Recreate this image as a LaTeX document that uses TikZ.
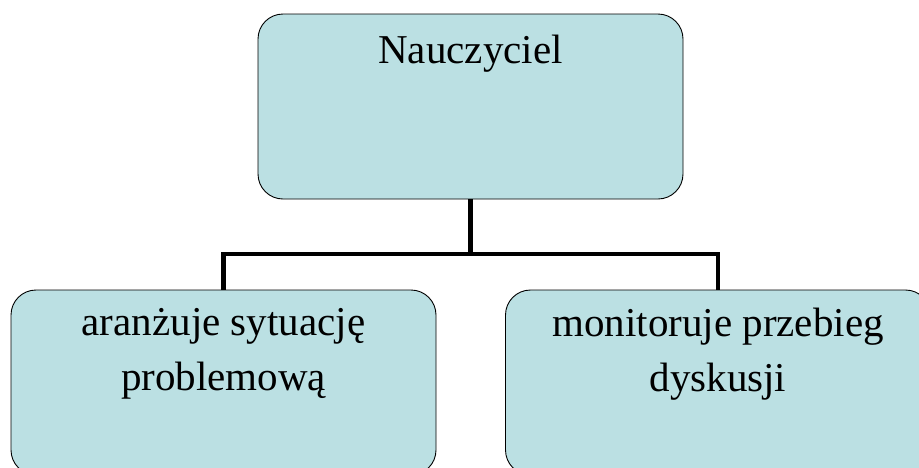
\documentclass[tikz,border=0pt]{standalone}
\usepackage{fontspec}
\setmainfont{Liberation Serif}
\usepackage{tikz}
\usetikzlibrary{positioning}

\begin{document}
\begin{tikzpicture}[x=1pt,y=-1pt]
\tikzstyle{every node}+=[inner sep=0pt]
\tikzstyle{box}=[draw=black,line width=0.9pt,fill=boxblue,rounded corners=25pt,
  minimum width=425pt,minimum height=185pt]
\tikzstyle{txt}=[font=\fontsize{41pt}{55pt}\selectfont,align=center,anchor=north]
\tikzstyle{conn}=[draw=black,line width=4.6pt,line join=miter]
\definecolor{boxblue}{RGB}{187,224,227}
\useasboundingbox (0,0) rectangle (919,467);
% boxes
\node [box] (nauczyciel) at (470.5,106.5) {};
\node [box] (aranz) at (223.5,382.5) {};
\node [box] (monit) at (718,382.5) {};
% texts
\node [txt] (tN) at (470.5,35) {Nauczyciel};
\node [txt] (tA) at (223.5,308) {aranżuje sytuację\\problemową};
\node [txt] (tM) at (718,308) {monitoruje przebieg\\dyskusji};
% connectors
\coordinate (fork) at (470.5,254);
\draw [conn] (nauczyciel.south) -- (fork) -| (aranz.north);
\draw [conn] (fork) -| (monit.north);
\end{tikzpicture}
\end{document}
